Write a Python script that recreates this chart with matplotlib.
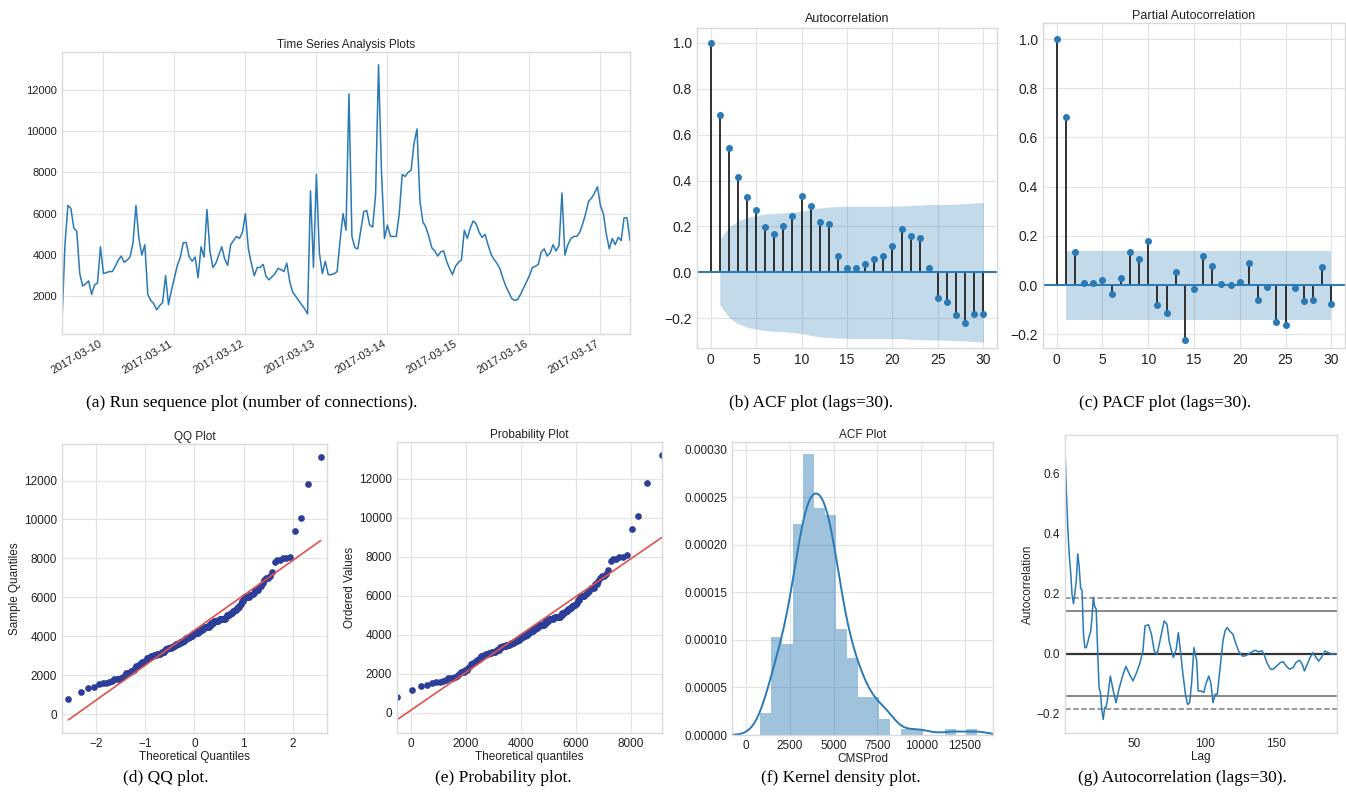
import numpy as np
import pandas as pd
import matplotlib
matplotlib.use("Agg")
import matplotlib.pyplot as plt
import matplotlib.dates as mdates
import matplotlib.ticker as mticker
import seaborn as sns
from statistics import NormalDist

# ---------------- data ----------------
start_time = "2017-03-09 10:00"
connections = [
    800, 4500, 6400, 6250, 5300, 5150, 3100, 2500, 2600, 2750,
    2100, 2550, 2650, 4400, 3100, 3150, 3200, 3200, 3450, 3750,
    3950, 3650, 3750, 3900, 4600, 6400, 4800, 4000, 4500, 2100,
    1800, 1650, 1350, 1550, 1700, 3000, 1600, 2300, 2900, 3500,
    3900, 4600, 4600, 3900, 3700, 3900, 2900, 4400, 3900, 6200,
    4200, 3400, 3600, 4000, 4400, 3800, 3500, 4500, 4700, 4900,
    4800, 5100, 6000, 4300, 3600, 3000, 3400, 3400, 3550, 2950,
    2800, 2950, 3100, 3350, 3300, 3200, 3600, 2700, 2200, 2000,
    1800, 1600, 1400, 1150, 7100, 3400, 7900, 4100, 3100, 3700,
    3050, 3050, 3100, 3200, 4700, 6000, 5200, 11800, 4900, 4350,
    4300, 5200, 6100, 6150, 5450, 5350, 6900, 13200, 8000, 4800,
    5450, 4900, 4900, 4900, 6000, 7900, 7800, 8000, 8100, 9400,
    10100, 6600, 5600, 5350, 4900, 4350, 4200, 3950, 4150, 4200,
    3700, 3350, 3050, 3450, 3650, 3750, 5200, 4800, 5300, 5650,
    5500, 5100, 4850, 5000, 4500, 4050, 3800, 3600, 3350, 2900,
    2500, 2200, 1900, 1800, 1850, 2100, 2400, 2700, 3000, 3400,
    3450, 3550, 4150, 4300, 3950, 4100, 4500, 4200, 4450, 7000,
    4000, 4500, 4800, 4900, 4900, 5100, 5500, 6000, 6600, 6750,
    7000, 7300, 6400, 6000, 5000, 4300, 4800, 4500, 4850, 4700,
    5800, 5800, 4700,
]

acf_values = [1.0, 0.685, 0.54, 0.417, 0.33, 0.27, 0.196, 0.167, 0.203, 0.246,
              0.333, 0.291, 0.219, 0.212, 0.07, 0.02, 0.02, 0.036, 0.057, 0.071,
              0.116, 0.188, 0.157, 0.149, 0.017, -0.114, -0.13, -0.188, -0.22, -0.18,
              -0.18]
acf_band = [0.141, 0.196, 0.224, 0.239, 0.248, 0.254, 0.257, 0.259, 0.262, 0.267,
            0.275, 0.281, 0.284, 0.287, 0.288, 0.288, 0.288, 0.288, 0.288, 0.289,
            0.289, 0.292, 0.293, 0.295, 0.295, 0.296, 0.297, 0.2995, 0.302, 0.304]

pacf_values = [1.0, 0.682, 0.136, 0.008, 0.011, 0.02, -0.035, 0.03, 0.136, 0.108,
               0.18, -0.08, -0.112, 0.054, -0.224, -0.015, 0.12, 0.077, 0.003, -0.001,
               0.015, 0.089, -0.06, -0.008, -0.149, -0.161, -0.012, -0.065, -0.061, 0.076,
               -0.078]
pacf_band = 0.141

hist_density = [2.3e-5, 10.3e-5, 9.6e-5, 22.2e-5, 29.5e-5, 23.9e-5, 23.1e-5, 11.1e-5,
                8.1e-5, 4.0e-5, 4.0e-5, 1.7e-5, 0.0, 0.6e-5, 0.6e-5, 0.0, 0.0,
                0.6e-5, 0.0, 0.6e-5]

autocorr_lags = [1, 2, 3, 4, 5, 6, 7, 8, 9, 10, 11, 12, 13, 14, 15, 16, 17, 18, 19, 20,
                 21, 22, 23, 24, 25, 26, 27, 28, 29, 30,
                 31, 33, 35, 37, 39, 42, 44, 46.5, 49, 51.5, 54, 56, 57.5, 60, 62,
                 64, 66, 67.5, 69, 71, 73, 74.5, 76.5, 77.5, 79.5, 81, 82.5, 84, 86, 87.5,
                 89, 90.5, 92, 94, 95, 97, 99, 100.5, 102.5, 104, 105.5, 107, 108.5, 110.5,
                 112.5, 114, 115.5, 117.5, 119.5, 121, 123.5, 126, 128, 130.5, 133, 135.5,
                 137.5, 140, 141.5, 143.5, 146, 148, 150.5, 153, 155, 157, 159.5, 162, 164,
                 166.5, 168.5, 170, 172, 174, 176, 177.5, 180, 182, 184.5, 187, 189.5, 192, 193]
autocorr_values = [0.685, 0.54, 0.417, 0.33, 0.27, 0.196, 0.167, 0.203, 0.246, 0.333,
                   0.291, 0.219, 0.212, 0.07, 0.02, 0.02, 0.036, 0.057, 0.071, 0.116,
                   0.188, 0.157, 0.149, 0.017, -0.114, -0.13, -0.188, -0.22, -0.18, -0.18,
                   -0.153, -0.075, -0.123, -0.164, -0.12, -0.069, -0.043, -0.069, -0.091, -0.064,
                   -0.03, 0.009, 0.093, 0.096, 0.065, 0.009, -0.002, 0.031, 0.065, 0.109,
                   0.098, 0.042, 0.003, -0.013, 0.014, 0.07, 0.009, -0.058, -0.136, -0.17,
                   -0.164, -0.091, 0.02, -0.025, -0.125, -0.125, -0.13, -0.10, -0.075, -0.10,
                   -0.164, -0.136, -0.136, -0.047, 0.042, 0.076, 0.087, 0.074, 0.065, 0.042,
                   0.009, -0.008, -0.008, -0.002, 0.006, 0.011, 0.006, 0.009, -0.002, -0.03,
                   -0.052, -0.052, -0.041, -0.03, -0.027, -0.041, -0.052, -0.047, -0.03, -0.022,
                   -0.036, -0.058, -0.036, -0.013, 0.003, -0.008, -0.025, -0.013, 0.009, 0.003,
                   -0.002, 0.0, -0.002]
z95, z99 = 1.959963984540054, 2.5758293035489004

captions = ["(a) Run sequence plot (number of connections).", "(b) ACF plot (lags=30).",
            "(c) PACF plot (lags=30).", "(d) QQ plot.", "(e) Probability plot.",
            "(f) Kernel density plot.", "(g) Autocorrelation (lags=30)."]

# ---------------- style ----------------
plt.style.use("seaborn-v0_8-whitegrid")
plt.rcParams["font.family"] = ["Liberation Sans", "DejaVu Sans"]
plt.rcParams["axes.edgecolor"] = "#d9d9d9"
plt.rcParams["grid.color"] = "#e3e3e3"
plt.rcParams["text.color"] = "#222222"
plt.rcParams["axes.labelcolor"] = "#222222"
plt.rcParams["xtick.color"] = "#222222"
plt.rcParams["ytick.color"] = "#222222"

BLUE = "#2a7ab5"
W, H = 1346, 807
fig = plt.figure(figsize=(W / 100, H / 100), dpi=100)


def axes_px(l, r, t, b):
    return fig.add_axes([l / W, 1 - b / H, (r - l) / W, (b - t) / H])


series = np.array(connections, dtype=float)
n = len(series)
dates = pd.date_range(start_time, periods=n, freq="h")

# (a) run sequence
axa = axes_px(62, 630, 52, 334)
axa.plot(dates, series, color=BLUE, lw=1.1)
axa.set_xlim(dates[0], dates[-1])
axa.xaxis.set_major_locator(mdates.DayLocator())
axa.xaxis.set_major_formatter(mdates.DateFormatter("%Y-%m-%d"))
axa.set_yticks([2000, 4000, 6000, 8000, 10000, 12000])
axa.tick_params(labelsize=8)
for lab in axa.get_xticklabels():
    lab.set_rotation(30)
    lab.set_ha("right")
axa.set_title("Time Series Analysis Plots", fontsize=8.5, pad=3)

# (b) ACF
lags = np.arange(len(acf_values))
axb = axes_px(697, 997, 28, 348)
axb.vlines(lags, 0, acf_values, color="#222222", lw=1.3)
axb.plot(lags, acf_values, "o", color=BLUE, ms=4)
axb.axhline(0, color=BLUE, lw=1.4)
axb.fill_between(lags[1:], -np.array(acf_band), np.array(acf_band), color=BLUE,
                 alpha=0.28, lw=0)
axb.set_xlim(-1.5, 31.5)
axb.set_ylim(-0.33, 1.065)
axb.set_xticks([0, 5, 10, 15, 20, 25, 30])
axb.set_yticks([-0.2, 0.0, 0.2, 0.4, 0.6, 0.8, 1.0])
axb.tick_params(labelsize=10)
axb.set_title("Autocorrelation", fontsize=9, pad=4)

# (c) PACF
axc = axes_px(1043, 1345, 23, 348)
axc.vlines(lags, 0, pacf_values, color="#222222", lw=1.3)
axc.plot(lags, pacf_values, "o", color=BLUE, ms=4)
axc.axhline(0, color=BLUE, lw=1.4)
axc.fill_between(lags[1:], -pacf_band, pacf_band, color=BLUE, alpha=0.28, lw=0)
axc.set_xlim(-1.5, 31.5)
axc.set_ylim(-0.255, 1.065)
axc.set_xticks([0, 5, 10, 15, 20, 25, 30])
axc.set_yticks([-0.2, 0.0, 0.2, 0.4, 0.6, 0.8, 1.0])
axc.tick_params(labelsize=10)
axc.set_title("Partial Autocorrelation", fontsize=9, pad=3)

# (d) QQ plot
nd = NormalDist()
ordered = np.sort(series)
theo = np.array([nd.inv_cdf(i / (n + 1)) for i in range(1, n + 1)])
mu, sd = series.mean(), series.std()
axd = axes_px(62, 327, 444, 733)
axd.plot(theo, ordered, "o", color="#2c3e97", ms=3.8)
axd.plot(theo, mu + sd * theo, color="#e0514d", lw=1.2)
axd.set_xlim(theo.min() - 0.13, theo.max() + 0.13)
axd.set_yticks([0, 2000, 4000, 6000, 8000, 10000, 12000])
axd.set_xticks([-2, -1, 0, 1, 2])
axd.tick_params(labelsize=8.5)
axd.set_xlabel("Theoretical Quantiles", fontsize=8.5, labelpad=1)
axd.set_ylabel("Sample Quantiles", fontsize=8.5, labelpad=2)
axd.set_title("QQ Plot", fontsize=8.5, pad=3)

# (e) Probability plot (Filliben positions, normal with sample loc/scale)
pos = np.empty(n)
pos[-1] = 0.5 ** (1.0 / n)
pos[0] = 1 - pos[-1]
pos[1:-1] = (np.arange(2, n) - 0.3175) / (n + 0.365)
osm = mu + sd * np.array([nd.inv_cdf(p) for p in pos])
slope, intercept = np.polyfit(osm, ordered, 1)
axe = axes_px(397, 662, 442, 733)
axe.plot(osm, ordered, "o", color="#2c3e97", ms=3.8)
axe.plot(osm, intercept + slope * osm, color="#e0514d", lw=1.2)
axe.set_xlim(osm.min(), osm.max())
axe.set_xticks([0, 2000, 4000, 6000, 8000])
axe.set_yticks([0, 2000, 4000, 6000, 8000, 10000, 12000])
axe.tick_params(labelsize=8.5)
axe.set_xlabel("Theoretical quantiles", fontsize=8.5, labelpad=1)
axe.set_ylabel("Ordered Values", fontsize=8.5, labelpad=2)
axe.set_title("Probability Plot", fontsize=8.5, pad=3)

# (f) histogram + KDE
edges = np.linspace(series.min(), series.max(), len(hist_density) + 1)
axf = axes_px(732, 993, 442, 735)
axf.bar(edges[:-1], hist_density, width=np.diff(edges), align="edge", color=BLUE,
        alpha=0.45, lw=0)
sns.kdeplot(x=series, ax=axf, color=BLUE, lw=1.4)
axf.set_xlim(-800, 14100)
axf.set_ylim(0, 0.000308)
axf.set_xticks([0, 2500, 5000, 7500, 10000, 12500])
axf.set_yticks([0, 0.00005, 0.0001, 0.00015, 0.0002, 0.00025, 0.0003])
axf.yaxis.set_major_formatter(mticker.FormatStrFormatter("%.5f"))
axf.tick_params(labelsize=8.5)
axf.set_ylabel("")
axf.set_xlabel("CMSProd", fontsize=8.5, labelpad=1)
axf.set_title("ACF Plot", fontsize=8.5, pad=3)

# (g) autocorrelation plot
axg = axes_px(1065, 1337, 435, 733)
axg.grid(False)
axg.axhline(z99 / np.sqrt(n), linestyle="--", color="grey", lw=1.1)
axg.axhline(z95 / np.sqrt(n), color="grey", lw=1.3)
axg.axhline(0.0, color="#333333", lw=1.6)
axg.axhline(-z95 / np.sqrt(n), color="grey", lw=1.3)
axg.axhline(-z99 / np.sqrt(n), linestyle="--", color="grey", lw=1.1)
axg.plot(autocorr_lags, autocorr_values, color=BLUE, lw=1.1)
axg.set_xlim(1, n)
axg.set_xticks([50, 100, 150])
axg.set_yticks([-0.2, 0.0, 0.2, 0.4, 0.6])
axg.tick_params(labelsize=8.5)
axg.set_xlabel("Lag", fontsize=8.5, labelpad=1)
axg.set_ylabel("Autocorrelation", fontsize=8.5, labelpad=2)

# captions
cap_pos = [(252, 403), (811, 403), (1165, 403), (166, 778), (503, 778), (841, 778), (1182, 778)]
for (cx, cy), txt in zip(cap_pos, captions):
    fig.text(cx / W, 1 - cy / H, txt, ha="center", va="center", fontsize=12.5,
             family=["Liberation Serif", "DejaVu Serif"], color="black")

fig.savefig("out.png", dpi=100)
